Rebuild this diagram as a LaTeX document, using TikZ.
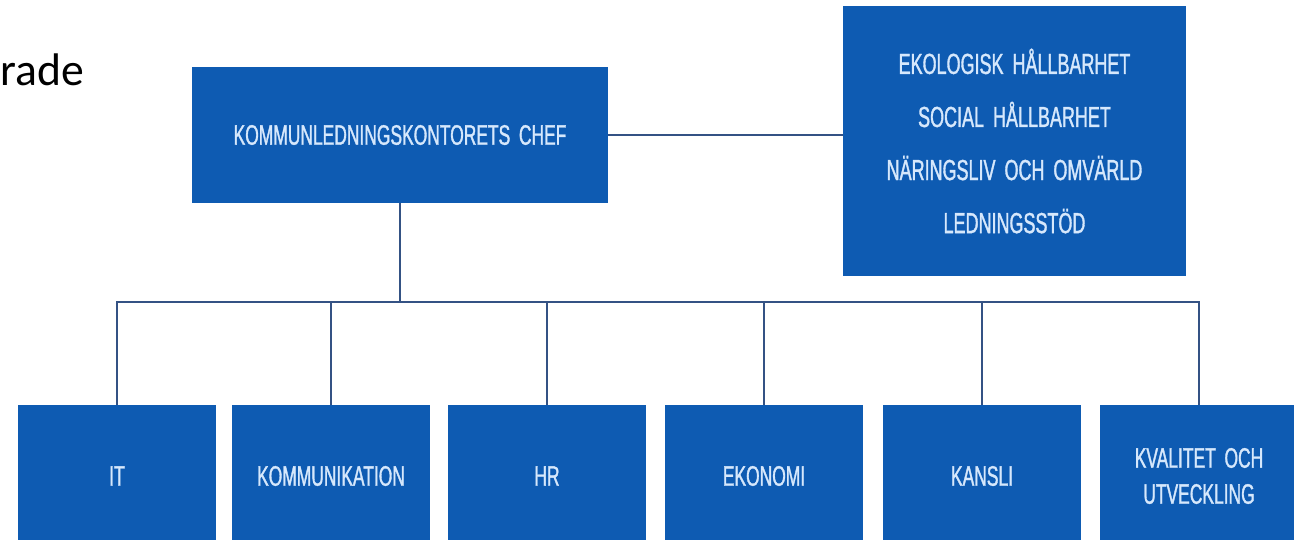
\documentclass[tikz,border=0pt]{standalone}
\usepackage{fontspec}
\setmainfont{Liberation Sans}
\newfontfamily\narrowfont[FakeStretch=0.62,FakeBold=1.2,WordSpace=1.8]{Liberation Sans}
\newfontfamily\notefont{Carlito}

\definecolor{boxblue}{RGB}{14,91,178}
\definecolor{boxtext}{RGB}{214,232,252}
\definecolor{linkblue}{RGB}{52,82,132}

\tikzset{
  unit/.style={fill=boxblue, text=boxtext, align=center, inner sep=0pt,
    font=\narrowfont\fontsize{16}{20.5}\selectfont,
    minimum width=3.96cm, minimum height=2.84cm},
  link/.style={draw=linkblue, line width=1.1pt},
}

\begin{document}
\begin{tikzpicture}[x=0.02cm, y=-0.02cm]
        \useasboundingbox (0, 0) rectangle (1294, 539);

        \node [anchor=base west, inner sep=0pt, font=\notefont\fontsize{26}{30}\selectfont] (note) at (0, 85) {rade};

        \node [unit, minimum width=8.32cm, minimum height=2.72cm] (chief) at (400, 135) {KOMMUNLEDNINGSKONTORETS CHEF};
        \node [unit, minimum width=6.86cm, minimum height=5.4cm, font=\narrowfont\fontsize{16.5}{30.2}\selectfont] (staff) at (1014.5, 141)
          {EKOLOGISK HÅLLBARHET\\SOCIAL HÅLLBARHET\\NÄRINGSLIV OCH OMVÄRLD\\LEDNINGSSTÖD};

        \node [unit] (it) at (117, 476) {IT};
        \node [unit] (komm) at (331, 476) {KOMMUNIKATION};
        \node [unit] (hr) at (547, 476) {HR};
        \node [unit] (ekonomi) at (764, 476) {EKONOMI};
        \node [unit] (kansli) at (982, 476) {KANSLI};
        \node [unit] (kvalitet) at (1199, 476) {KVALITET OCH\\UTVECKLING};

        \coordinate (bus) at (400, 302);

        \draw [link] (chief.east) -- (chief.east -| staff.west);
        \draw [link] (chief.south) -- (bus);
        \draw [link] (bus) -| (it.north);
        \draw [link] (bus) -| (komm.north);
        \draw [link] (bus) -| (hr.north);
        \draw [link] (bus) -| (ekonomi.north);
        \draw [link] (bus) -| (kansli.north);
        \draw [link] (bus) -| (kvalitet.north);
      \end{tikzpicture}
\end{document}
